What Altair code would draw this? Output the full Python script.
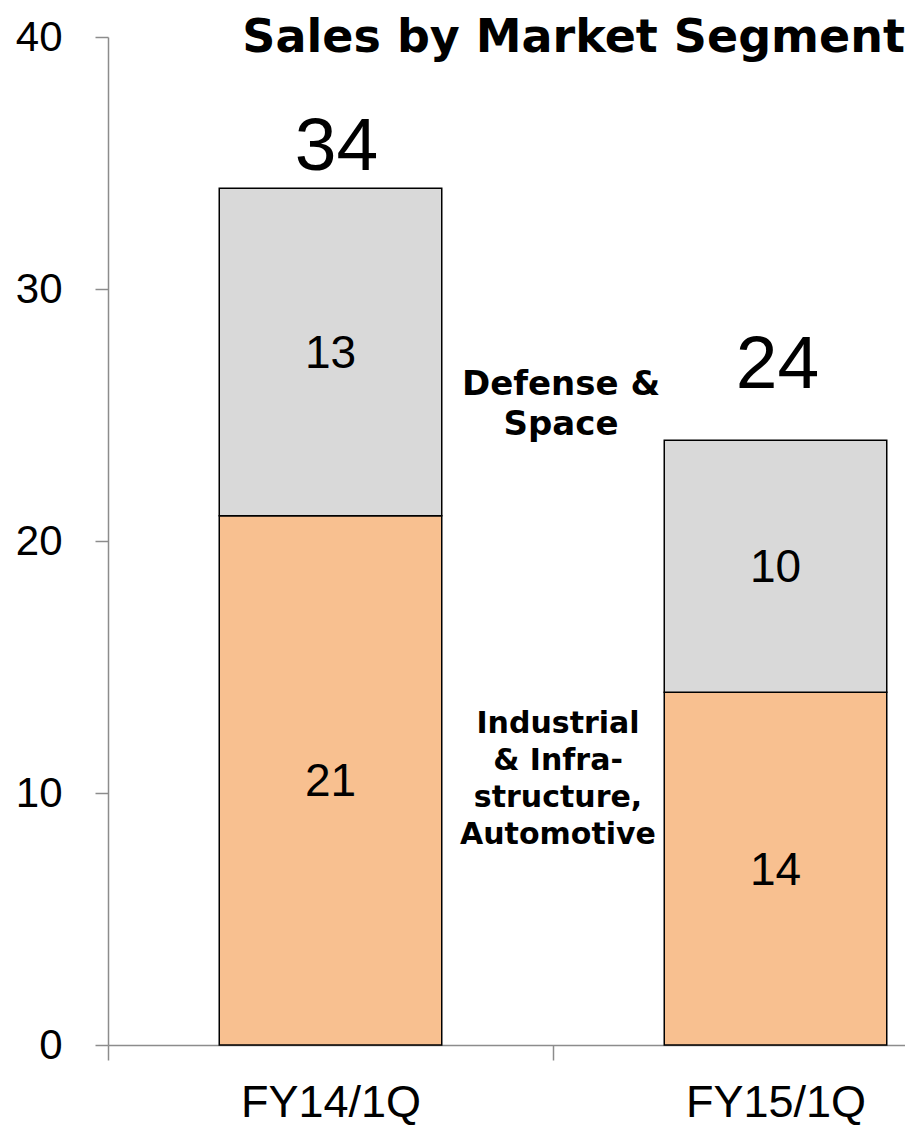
import altair as alt
import pandas as pd

categories = ["FY14/1Q", "FY15/1Q"]
segments = ["Industrial & Infrastructure, Automotive", "Defense & Space"]
industrial = [21, 14]
defense = [13, 10]
seg_colors = ["#F8C090", "#D9D9D9"]
y_ticks = [0, 10, 20, 30, 40]
title_text = "Sales by Market Segment"
annot_defense = ["Defense &", "Space"]
annot_industrial = ["Industrial", "& Infra-", "structure,", "Automotive"]

rows = []
for i, c in enumerate(categories):
    rows.append({"category": c, "segment": segments[0], "order": 0, "value": industrial[i]})
    rows.append({"category": c, "segment": segments[1], "order": 1, "value": defense[i]})
df = pd.DataFrame(rows)
one = pd.DataFrame({"k": [0]})

NUM = "Liberation Sans"
BOLD = "DejaVu Sans"
AX = "#8c8c8c"
W, H = 797, 1008

x_enc = alt.X(
    "category:N",
    sort=categories,
    scale=alt.Scale(range=[0, 890], paddingInner=0, paddingOuter=0),
    axis=alt.Axis(
        title=None, labelAngle=0, labelFont=NUM, labelFontSize=45, labelColor="black",
        labelPadding=20, labelLimit=0, tickBand="extent", tickSize=15, tickColor=AX,
        tickWidth=1.5, domainColor=AX, domainWidth=1.5,
    ),
)
x_plain = alt.X("category:N", sort=categories)

base = alt.Chart(df)

bars = base.mark_bar(stroke="black", strokeWidth=1.5, width=alt.RelativeBandSize(0.5)).encode(
    x=x_enc,
    y=alt.Y(
        "value:Q",
        stack="zero",
        scale=alt.Scale(domain=[0, 40], nice=False),
        axis=alt.Axis(
            title=None, values=y_ticks, grid=False, tickSize=13, tickColor=AX, tickWidth=1.5,
            domainColor=AX, domainWidth=1.5, labelFont=NUM, labelFontSize=42,
            labelColor="black", labelPadding=33,
        ),
    ),
    color=alt.Color("segment:N", scale=alt.Scale(domain=segments, range=seg_colors), legend=None),
    order=alt.Order("order:Q"),
)

seg_labels = (
    base.transform_stack(
        stack="value", as_=["y0", "y1"], groupby=["category"], sort=[alt.SortField("order")]
    )
    .transform_calculate(mid="(datum.y0 + datum.y1) / 2")
    .mark_text(font=NUM, fontSize=46, color="black", baseline="middle", dy=2)
    .encode(x=x_plain, y=alt.Y("mid:Q"), text="value:Q")
)

totals_base = base.transform_aggregate(total="sum(value)", groupby=["category"])
total_a = (
    totals_base.transform_filter(alt.datum.category == categories[0])
    .mark_text(font=NUM, fontSize=75, color="black", baseline="alphabetic", dy=-18, dx=6)
    .encode(x=x_plain, y=alt.Y("total:Q"), text="total:Q")
)
total_b = (
    totals_base.transform_filter(alt.datum.category == categories[1])
    .mark_text(font=NUM, fontSize=75, color="black", baseline="alphabetic", dy=-52, dx=2)
    .encode(x=x_plain, y=alt.Y("total:Q"), text="total:Q")
)

ann1 = alt.Chart(one).mark_text(
    text=annot_defense, font=BOLD, fontWeight="bold", fontSize=34, lineHeight=40,
    align="center", baseline="alphabetic", color="black",
).encode(x=alt.value(453), y=alt.value(358))

ann2 = alt.Chart(one).mark_text(
    text=annot_industrial, font=BOLD, fontWeight="bold", fontSize=30, lineHeight=37,
    align="center", baseline="alphabetic", color="black",
).encode(x=alt.value(450), y=alt.value(696))

title = alt.Chart(one).mark_text(
    text=title_text, font=BOLD, fontWeight="bold", fontSize=46,
    align="right", baseline="alphabetic", color="black",
).encode(x=alt.value(W), y=alt.value(15))

chart = (
    alt.layer(bars, seg_labels, total_a, total_b, ann1, ann2, title)
    .properties(
        width=W, height=H,
        autosize=alt.AutoSizeParams(type="none"),
        padding={"left": 100, "top": 29, "right": 0, "bottom": 82},
        background="white",
    )
    .configure_view(stroke=None)
)

chart.save("out.html", embed_options={"renderer": "svg", "actions": False})
